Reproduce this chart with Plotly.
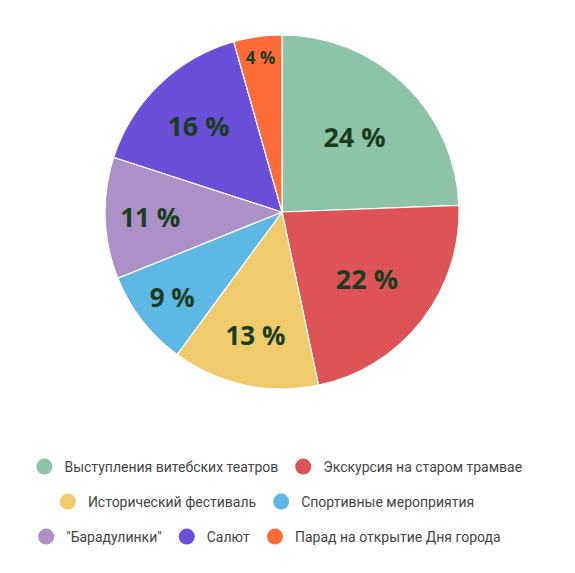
import plotly.graph_objects as go

# Events of the city day survey (share of answers, %)
events = [
    'Выступления витебских театров',
    'Экскурсия на старом трамвае',
    'Исторический фестиваль',
    'Спортивные мероприятия',
    '"Барадулинки"',
    'Салют',
    'Парад на открытие Дня города',
]
shares = [24.4, 22.3, 13.4, 8.8, 11.1, 15.6, 4.4]
colors = ['#8DC3A8', '#DD5356', '#EFCB6C', '#5EB8E5', '#AB91C7', '#6A4FD9', '#FD6B39']
label_sizes = [27, 27, 26, 26, 26, 27, 17]

# which legend row each event goes to
legend_rows = ['legend', 'legend', 'legend2', 'legend2', 'legend3', 'legend3', 'legend3']

fig = go.Figure()
fig.add_trace(go.Pie(
    labels=events,
    values=shares,
    sort=False,
    direction='clockwise',
    rotation=0,
    marker=dict(colors=colors, line=dict(color='white', width=1.2)),
    texttemplate='%{value:.0f} %',
    textposition='inside',
    insidetextorientation='horizontal',
    textfont=dict(family='Open Sans', color='#1B3D1F', size=label_sizes, weight='bold'),
    showlegend=False,
    hoverinfo='label+percent',
    domain=dict(x=[0.1687, 0.7844], y=[0.3351, 0.9529]),
))

# dummy traces just to get round legend markers
for name, col, lg in zip(events, colors, legend_rows):
    fig.add_trace(go.Scatter(
        x=[None], y=[None],
        mode='markers',
        name=name,
        marker=dict(color=col, size=17, symbol='circle'),
        legend=lg,
        hoverinfo='skip',
    ))

legend_style = dict(
    orientation='h',
    xanchor='center',
    yanchor='middle',
    font=dict(family='Roboto', size=14, color='#444444'),
    bgcolor='rgba(0,0,0,0)',
    itemclick=False,
)

fig.update_layout(
    width=575,
    height=573,
    margin=dict(l=0, r=0, t=0, b=0),
    paper_bgcolor='white',
    plot_bgcolor='white',
    xaxis=dict(visible=False),
    yaxis=dict(visible=False),
    legend=dict(x=0.466, y=1 - 459 / 573, **legend_style),
    legend2=dict(x=0.445, y=1 - 494 / 573, **legend_style),
    legend3=dict(x=0.449, y=1 - 529 / 573, **legend_style),
)

fig.write_html("out.html")
